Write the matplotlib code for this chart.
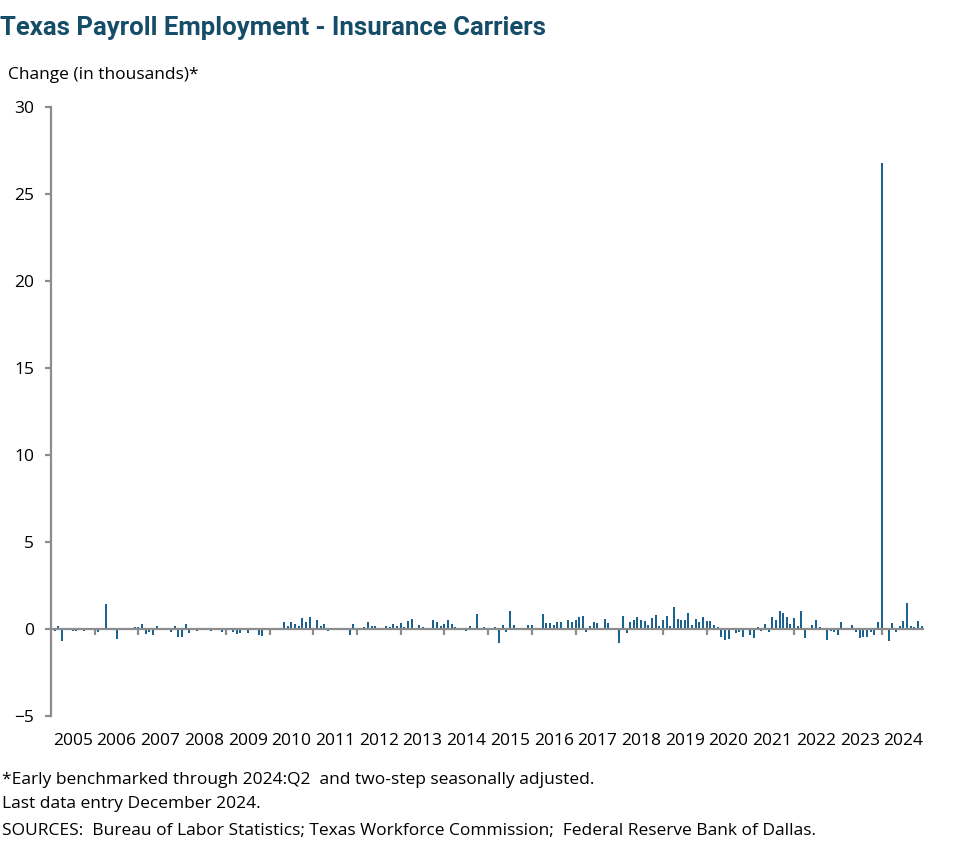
import numpy as np
import matplotlib.pyplot as plt

# monthly change in thousands, Feb 2005 .. Dec 2024 (2005 starts in Feb)
y2005 = [-0.1, 0.2, -0.68, -0.07, -0.06, -0.12, -0.12, 0, -0.12, 0, 0]
y2006 = [0, -0.2, 0, 1.45, 0, 0, -0.6, 0, 0, 0, 0, 0.1]
y2007 = [0.1, 0.28, -0.28, -0.2, -0.35, 0.2, 0, 0, 0, -0.2, 0.18, -0.48]
y2008 = [-0.45, 0.28, -0.22, 0, -0.1, 0, 0, 0, -0.1, 0, 0, -0.2]
y2009 = [0, 0, -0.15, -0.3, -0.25, -0.05, -0.22, 0, -0.08, -0.35, -0.4, 0]
y2010 = [0, 0, 0, 0, 0.4, 0.2, 0.4, 0.3, 0.17, 0.62, 0.38, 0.7]
y2011 = [0, 0.53, 0.2, 0.28, -0.1, 0, 0, 0, -0.08, 0, -0.35, 0.3]
y2012 = [0, 0, 0.13, 0.4, 0.18, 0.18, 0, 0, 0.18, 0.1, 0.28, 0.18]
y2013 = [0.35, 0.1, 0.47, 0.58, 0, 0.22, 0.12, 0, 0, 0.52, 0.41, 0.2]
y2014 = [0.28, 0.52, 0.28, 0.12, 0, 0, -0.09, 0.18, 0, 0.87, 0, 0.12]
y2015 = [0, 0, 0.12, -0.82, 0.22, -0.17, 1.02, 0.22, -0.07, 0, 0, 0.22]
y2016 = [0.22, 0, 0, 0.86, 0.34, 0.34, 0.22, 0.4, 0.4, 0, 0.52, 0.4]
y2017 = [0.52, 0.68, 0.74, -0.18, 0.16, 0.39, 0.34, 0, 0.56, 0.34, 0, 0]
y2018 = [-0.82, 0.75, -0.24, 0.41, 0.54, 0.68, 0.5, 0.45, 0.22, 0.62, 0.79, 0.16]
y2019 = [0.51, 0.73, 0.16, 1.27, 0.56, 0.51, 0.51, 0.92, 0.22, 0.56, 0.39, 0.69]
y2020 = [0.45, 0.45, 0.22, 0.09, -0.45, -0.62, -0.58, 0, -0.22, -0.15, -0.45, 0]
y2021 = [-0.34, -0.52, 0.09, -0.12, 0.27, -0.17, 0.68, 0.51, 1.02, 0.93, 0.69, 0.28]
y2022 = [0.62, 0.16, 1.02, -0.5, 0, 0.22, 0.51, 0.1, 0, -0.65, -0.1, -0.15]
y2023 = [-0.35, 0.4, 0, 0, 0.22, -0.15, -0.5, -0.46, -0.44, -0.17, -0.36, 0.38]
y2024 = [26.8, 0, -0.68, 0.36, -0.17, 0.15, 0.44, 1.52, 0.2, 0.1, 0.44, 0.2]

years = list(range(2005, 2025))
change = np.array(y2005 + y2006 + y2007 + y2008 + y2009 + y2010 + y2011 + y2012
                  + y2013 + y2014 + y2015 + y2016 + y2017 + y2018 + y2019 + y2020
                  + y2021 + y2022 + y2023 + y2024)
months = np.arange(1, len(change) + 1)  # months since Jan 2005

blue = '#1b638e'
gray = '#8c8c8c'
plt.rcParams['font.family'] = 'Open Sans'

fig = plt.figure(figsize=(9.77, 8.64), dpi=100)
ax = fig.add_axes([0.0522, 0.1713, 0.8922, 0.7049])

ax.bar(months, change, width=0.55, color=blue, zorder=2)

ax.set_xlim(0, 239.3)
ax.set_ylim(-5, 30)
ax.set_yticks(range(-5, 31, 5))

for s in ['top', 'right']:
    ax.spines[s].set_visible(False)
ax.spines['left'].set_color(gray)
ax.spines['left'].set_linewidth(1.6)
ax.spines['bottom'].set_position(('data', 0))
ax.spines['bottom'].set_color(gray)
ax.spines['bottom'].set_linewidth(1.6)
ax.spines['bottom'].set_zorder(3)

ax.set_xticks([12 * k for k in range(1, 20)])
ax.set_xticklabels([])
ax.tick_params(axis='x', direction='out', length=4.5, width=1.6, color=gray)
ax.tick_params(axis='y', direction='out', length=4, width=1.6, color=gray,
               labelsize=12.5, pad=8)

for k, yr in enumerate(years):
    ax.text(6 + 12 * k, -0.047, str(yr), transform=ax.get_xaxis_transform(),
            ha='center', va='baseline', fontsize=12.5)

fig.text(0.0, 0.9595, 'Texas Payroll Employment - Insurance Carriers',
         fontsize=18.5, fontweight='bold', color='#154c68', va='baseline',
         family='Roboto')
fig.text(0.0082, 0.9086, 'Change (in thousands)*', fontsize=12.5, va='baseline')
fig.text(0.002, 0.0926, '*Early benchmarked through 2024:Q2  and two-step seasonally adjusted.',
         fontsize=12.5, va='baseline')
fig.text(0.002, 0.0648, 'Last data entry December 2024.', fontsize=12.5, va='baseline')
fig.text(0.002, 0.0336, 'SOURCES:  Bureau of Labor Statistics; Texas Workforce Commission;  Federal Reserve Bank of Dallas.',
         fontsize=12.5, va='baseline')

fig.savefig('out.png', dpi=100)
